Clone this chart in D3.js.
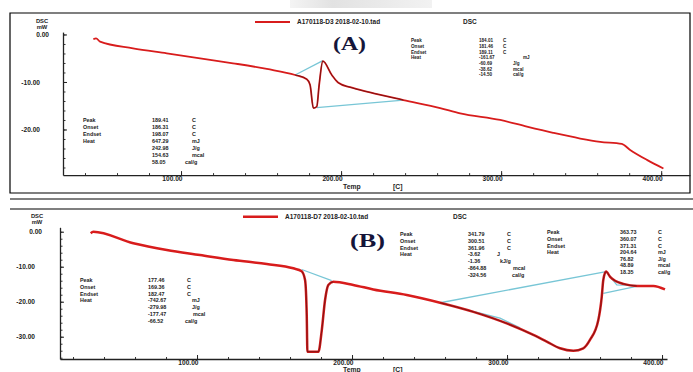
<!DOCTYPE html>
<html>
<head>
<meta charset="utf-8">
<script src="https://cdn.jsdelivr.net/npm/d3@7"></script>
<style>
  body { margin: 0; background: #fff; }
  svg { display: block; font-family: "Liberation Sans", Arial, sans-serif; }
</style>
</head>
<body>
<svg id="chart" width="693" height="372"></svg>
<script>
// ---- data ----
const xMajorTicks = [100, 200, 300, 400];
const topYTicks = [0, -10, -20];
const bottomYTicks = [0, -10, -20, -30];

// (A) A170118-D3
const topTemp = [45.2, 46.9, 49.4, 70.0, 91.1, 111.9, 132.5, 153.6, 171.3, 178.6, 180.6, 182.7, 184.8, 186.3, 188.6,
  194.2, 198.3, 205.6, 218.1, 238.9, 261.9, 274.4, 299.4, 316.1, 332.5, 349.4, 361.9, 375.4, 380.6, 391.1, 401.4];
const topDsc = [-1.01, -0.8, -1.52, -2.91, -3.96, -5.01, -6.06, -7.26, -8.53, -9.43, -10.6, -15.5, -15.2, -10.6, -5.6,
  -8.53, -10.15, -11.1, -12.2, -13.8, -15.5, -16.6, -18.0, -19.4, -20.7, -21.9, -22.6, -23.05, -24.3, -26.4, -28.2];
const topBaseA = { t: [171.3, 188.6], d: [-8.53, -5.5] };
const topBaseB = { t: [184.8, 238.9], d: [-15.4, -13.8] };

// (B) A170118-D7
const bottomTemp = [31.4, 33.1, 58.9, 80.5, 101.9, 123.4, 145.0, 162.1, 167.5, 169.7, 170.8, 171.2, 178.3, 180.5, 182.6,
  184.7, 187.9, 200.8, 213.7, 235.3, 256.8, 278.3, 299.8, 317.0, 325.6, 334.2, 342.8, 349.2, 353.5, 358.9, 361.1,
  362.1, 363.9, 366.5, 369.7, 375.0, 383.7, 394.4, 401.9];
const bottomDsc = [-0.46, -0.03, -3.31, -5.23, -6.66, -8.09, -9.23, -10.46, -11.29, -13.8, -24.3, -34.3, -34.3, -28.1, -19.5,
  -15.2, -14.3, -15.2, -16.5, -18.1, -20.3, -22.9, -26.2, -29.5, -31.4, -33.3, -34.0, -33.3, -30.9, -25.2, -18.6,
  -13.8, -11.4, -12.9, -14.0, -14.9, -15.5, -15.5, -16.5];
const bottomBaseA = { t: [167.5, 186.9], d: [-10.8, -14.0] };
const bottomBaseB = { t: [256.8, 363.9], d: [-20.3, -11.4] };
const bottomBaseC = { t: [269.7, 295.5, 308.4], d: [-21.8, -24.7, -27.5] };
const bottomBaseD = { t: [363.9, 370.8, 385.8], d: [-11.4, -15.2, -15.4] };
const bottomBaseE = { t: [362.1, 385.8], d: [-17.6, -15.4] };

// annotation tables
const annotLabels = ["Peak", "Onset", "Endset", "Heat"];
const topLeftValues = ["189.41", "186.31", "198.07", "647.29", "242.98", "154.63", "58.05"];
const topLeftUnits = ["C", "C", "C", "mJ", "J/g", "mcal", "cal/g"];
const topRightValues = ["184.01", "181.46", "189.11", "-161.67", "-60.69", "-38.62", "-14.50"];
const topRightUnits = ["C", "C", "C", "mJ", "J/g", "mcal", "cal/g"];
const botLeftValues = ["177.46", "169.36", "182.47", "-742.67", "-279.98", "-177.47", "-66.52"];
const botLeftUnits = ["C", "C", "C", "mJ", "J/g", "mcal", "cal/g"];
const botMidValues = ["341.79", "300.51", "361.96", "-3.62", "-1.36", "-864.88", "-324.56"];
const botMidUnits = ["C", "C", "C", "J", "kJ/g", "mcal", "cal/g"];
const botRightValues = ["363.73", "360.07", "371.31", "204.64", "76.82", "48.89", "18.35"];
const botRightUnits = ["C", "C", "C", "mJ", "J/g", "mcal", "cal/g"];

const RED = "#d81c1c";
const CYAN = "#78c6d6";

const svg = d3.select("#chart");

// faint grey smear at the top of the scan
const defs = svg.append("defs");
const grad = defs.append("linearGradient").attr("id", "smear");
grad.append("stop").attr("offset", "0%").attr("stop-color", "#f4f4f4");
grad.append("stop").attr("offset", "30%").attr("stop-color", "#e2e2e2");
grad.append("stop").attr("offset", "100%").attr("stop-color", "#f2f2f2");
svg.append("rect").attr("x", 290).attr("y", 0).attr("width", 142).attr("height", 8).attr("fill", "url(#smear)");

// frames
svg.append("path")
  .attr("d", "M10,13H690V193H10Z")
  .attr("fill", "none").attr("stroke", "#000").attr("stroke-width", 1.2);
svg.append("path").attr("d", "M10,199H693M10,209H693")
  .attr("stroke", "#000").attr("stroke-width", 1.2);

function drawPanel(p) {
  const x = d3.scaleLinear().domain(p.xDomain).range(p.xRange);
  const y = d3.scaleLinear().domain(p.yDomain).range(p.yRange);
  const g = svg.append("g");

  // minor ticks
  const xMinor = d3.range(20, 420, 20).filter(t => t >= p.xDomain[0] && t <= p.xDomain[1]);
  g.append("g")
    .attr("transform", `translate(0,${p.yRange[0]})`)
    .call(d3.axisBottom(x).tickValues(xMinor).tickSize(-2).tickSizeOuter(0).tickFormat(""))
    .call(a => a.select(".domain").remove())
    .selectAll("line").attr("stroke", "#333");
  const yMinor = d3.range(0, p.yDomain[0], -2);
  g.append("g")
    .attr("transform", `translate(${p.xRange[0]},0)`)
    .call(d3.axisLeft(y).tickValues(yMinor).tickSize(-2.5).tickSizeOuter(0).tickFormat(""))
    .call(a => a.select(".domain").remove())
    .selectAll("line").attr("stroke", "#333");

  // x axis
  const xa = g.append("g")
    .attr("transform", `translate(0,${p.yRange[0]})`)
    .call(d3.axisBottom(x).tickValues(xMajorTicks).tickSize(-4).tickSizeOuter(0)
      .tickFormat(d => d.toFixed(2)));
  xa.select(".domain").attr("stroke", "#222").attr("stroke-width", 1.3);
  xa.selectAll("line").attr("stroke", "#222");
  xa.selectAll("text")
    .attr("text-anchor", "end").attr("x", 1).attr("y", 1)
    .attr("fill", "#222").style("font-size", "6.6px").style("font-weight", "bold");

  // y axis
  const ya = g.append("g")
    .attr("transform", `translate(${p.xRange[0]},0)`)
    .call(d3.axisLeft(y).tickValues(p.yTicks).tickSize(-4).tickSizeOuter(0)
      .tickFormat(d => d.toFixed(2)));
  ya.select(".domain").attr("stroke", "#222").attr("stroke-width", 1.3);
  ya.selectAll("line").attr("stroke", "#222");
  ya.selectAll("text")
    .attr("x", d => d === 0 ? p.zeroLabelDx : p.labelDx)
    .attr("fill", "#222").style("font-size", "6.6px").style("font-weight", "bold");

  // unit captions
  g.append("text").attr("x", p.capX).attr("y", p.capY).attr("text-anchor", "middle")
    .style("font-size", "5.8px").style("font-weight", "bold").attr("fill", "#222").text("DSC");
  g.append("text").attr("x", p.capX).attr("y", p.capY + 6.5).attr("text-anchor", "middle")
    .style("font-size", "5.8px").style("font-weight", "bold").attr("fill", "#222").text("mW");
  g.append("text").attr("x", 343).attr("y", p.tempY)
    .style("font-size", "6.8px").style("font-weight", "bold").attr("fill", "#222").text("Temp");
  g.append("text").attr("x", 393).attr("y", p.tempY)
    .style("font-size", "6.8px").style("font-weight", "bold").attr("fill", "#222").text("[C]");

  // legend
  g.append("line").attr("x1", p.legX1).attr("x2", p.legX2).attr("y1", p.legY).attr("y2", p.legY)
    .attr("stroke", RED).attr("stroke-width", p.curveWidth);
  g.append("text").attr("x", p.legX2 + 7).attr("y", p.legY + 2.2)
    .style("font-size", "6.5px").style("font-weight", "bold").attr("fill", "#222").text(p.legendText);
  g.append("text").attr("x", p.dscX).attr("y", p.legY + 2.2)
    .style("font-size", "6.5px").style("font-weight", "bold").attr("fill", "#222").text("DSC");

  const line = d3.line().x(d => x(d[0])).y(d => y(d[1])).curve(d3.curveMonotoneX);
  const pts = p.temp.map((t, i) => [t, p.dsc[i]]);

  // baselines
  p.bases.forEach(b => {
    g.append("path")
      .attr("d", d3.line().x(d => x(d[0])).y(d => y(d[1]))(b.t.map((t, i) => [t, b.d[i]])))
      .attr("fill", "none").attr("stroke", CYAN).attr("stroke-width", 1.3);
  });

  // curve
  g.append("path").attr("d", line(pts))
    .attr("fill", "none").attr("stroke", RED).attr("stroke-width", p.curveWidth)
    .attr("stroke-linejoin", "round");

  // darker analysed stretches
  p.dark.forEach(([lo, hi]) => {
    g.append("path").attr("d", line(pts.filter(d => d[0] >= lo && d[0] <= hi)))
      .attr("fill", "none").attr("stroke", "#3a0c0c").attr("stroke-width", 0.8).attr("stroke-opacity", 0.7);
  });

  // panel tag
  g.append("text").attr("x", p.tagX).attr("y", p.tagY)
    .attr("textLength", p.tagLen).attr("lengthAdjust", "spacingAndGlyphs")
    .style("font-family", "'Liberation Serif', 'Times New Roman', serif")
    .style("font-size", p.tagSize + "px").style("font-weight", "bold")
    .attr("fill", "#15153a").text(p.tag);
}

function annot(a) {
  const g = svg.append("g").attr("fill", "#222").style("font-size", a.size + "px").style("font-weight", "bold");
  annotLabels.forEach((l, i) => g.append("text").attr("x", a.x0).attr("y", a.y0 + i * a.dy).text(l));
  a.values.forEach((v, i) => g.append("text").attr("x", a.x1).attr("y", a.y0 + i * a.dy).text(v));
  a.units.forEach((u, i) => g.append("text").attr("x", a.ux[i]).attr("y", a.y0 + i * a.dy).text(u));
}

drawPanel({
  xDomain: [26.25, 418], xRange: [63, 690],
  yDomain: [-29.6, 0.5], yRange: [175.1, 32.1],
  yTicks: topYTicks, zeroLabelDx: -14, labelDx: -23,
  capX: 42, capY: 22.5, tempY: 188.5,
  legX1: 255, legX2: 290, legY: 22, dscX: 463,
  legendText: "A170118-D3 2018-02-10.tad",
  temp: topTemp, dsc: topDsc, curveWidth: 1.8,
  bases: [topBaseA, topBaseB], dark: [[171, 240]],
  tag: "(A)", tagX: 333, tagY: 50, tagSize: 19, tagLen: 33
});

drawPanel({
  xDomain: [11.6, 403.2], xRange: [60, 667],
  yDomain: [-36.37, 1.26], yRange: [359, 227.3],
  yTicks: bottomYTicks, zeroLabelDx: -18, labelDx: -25,
  capX: 37, capY: 217.5, tempY: 371.5,
  legX1: 243, legX2: 278, legY: 216.7, dscX: 453,
  legendText: "A170118-D7 2018-02-10.tad",
  temp: bottomTemp, dsc: bottomDsc, curveWidth: 2.5,
  bases: [bottomBaseA, bottomBaseB, bottomBaseC, bottomBaseD, bottomBaseE], dark: [[165, 190], [256, 385]],
  tag: "(B)", tagX: 350, tagY: 247, tagSize: 19, tagLen: 35
});

annot({ x0: 83, x1: 152, y0: 121.5, dy: 7.1, size: 5.4,
  values: topLeftValues, units: topLeftUnits, ux: [192, 192, 192, 192, 192, 192, 185] });
annot({ x0: 411, x1: 479, y0: 42.2, dy: 5.7, size: 4.6,
  values: topRightValues, units: topRightUnits, ux: [503, 503, 503, 523, 513, 513, 513] });
annot({ x0: 80, x1: 148, y0: 282, dy: 6.8, size: 5.4,
  values: botLeftValues, units: botLeftUnits, ux: [187, 187, 187, 192, 192, 193, 185] });
annot({ x0: 400, x1: 468, y0: 236.3, dy: 6.7, size: 5.4,
  values: botMidValues, units: botMidUnits, ux: [507, 507, 507, 497, 500, 513, 512] });
annot({ x0: 547, x1: 620, y0: 234.3, dy: 6.6, size: 5.4,
  values: botRightValues, units: botRightUnits, ux: [658, 658, 658, 658, 658, 658, 658] });
</script>
</body>
</html>
